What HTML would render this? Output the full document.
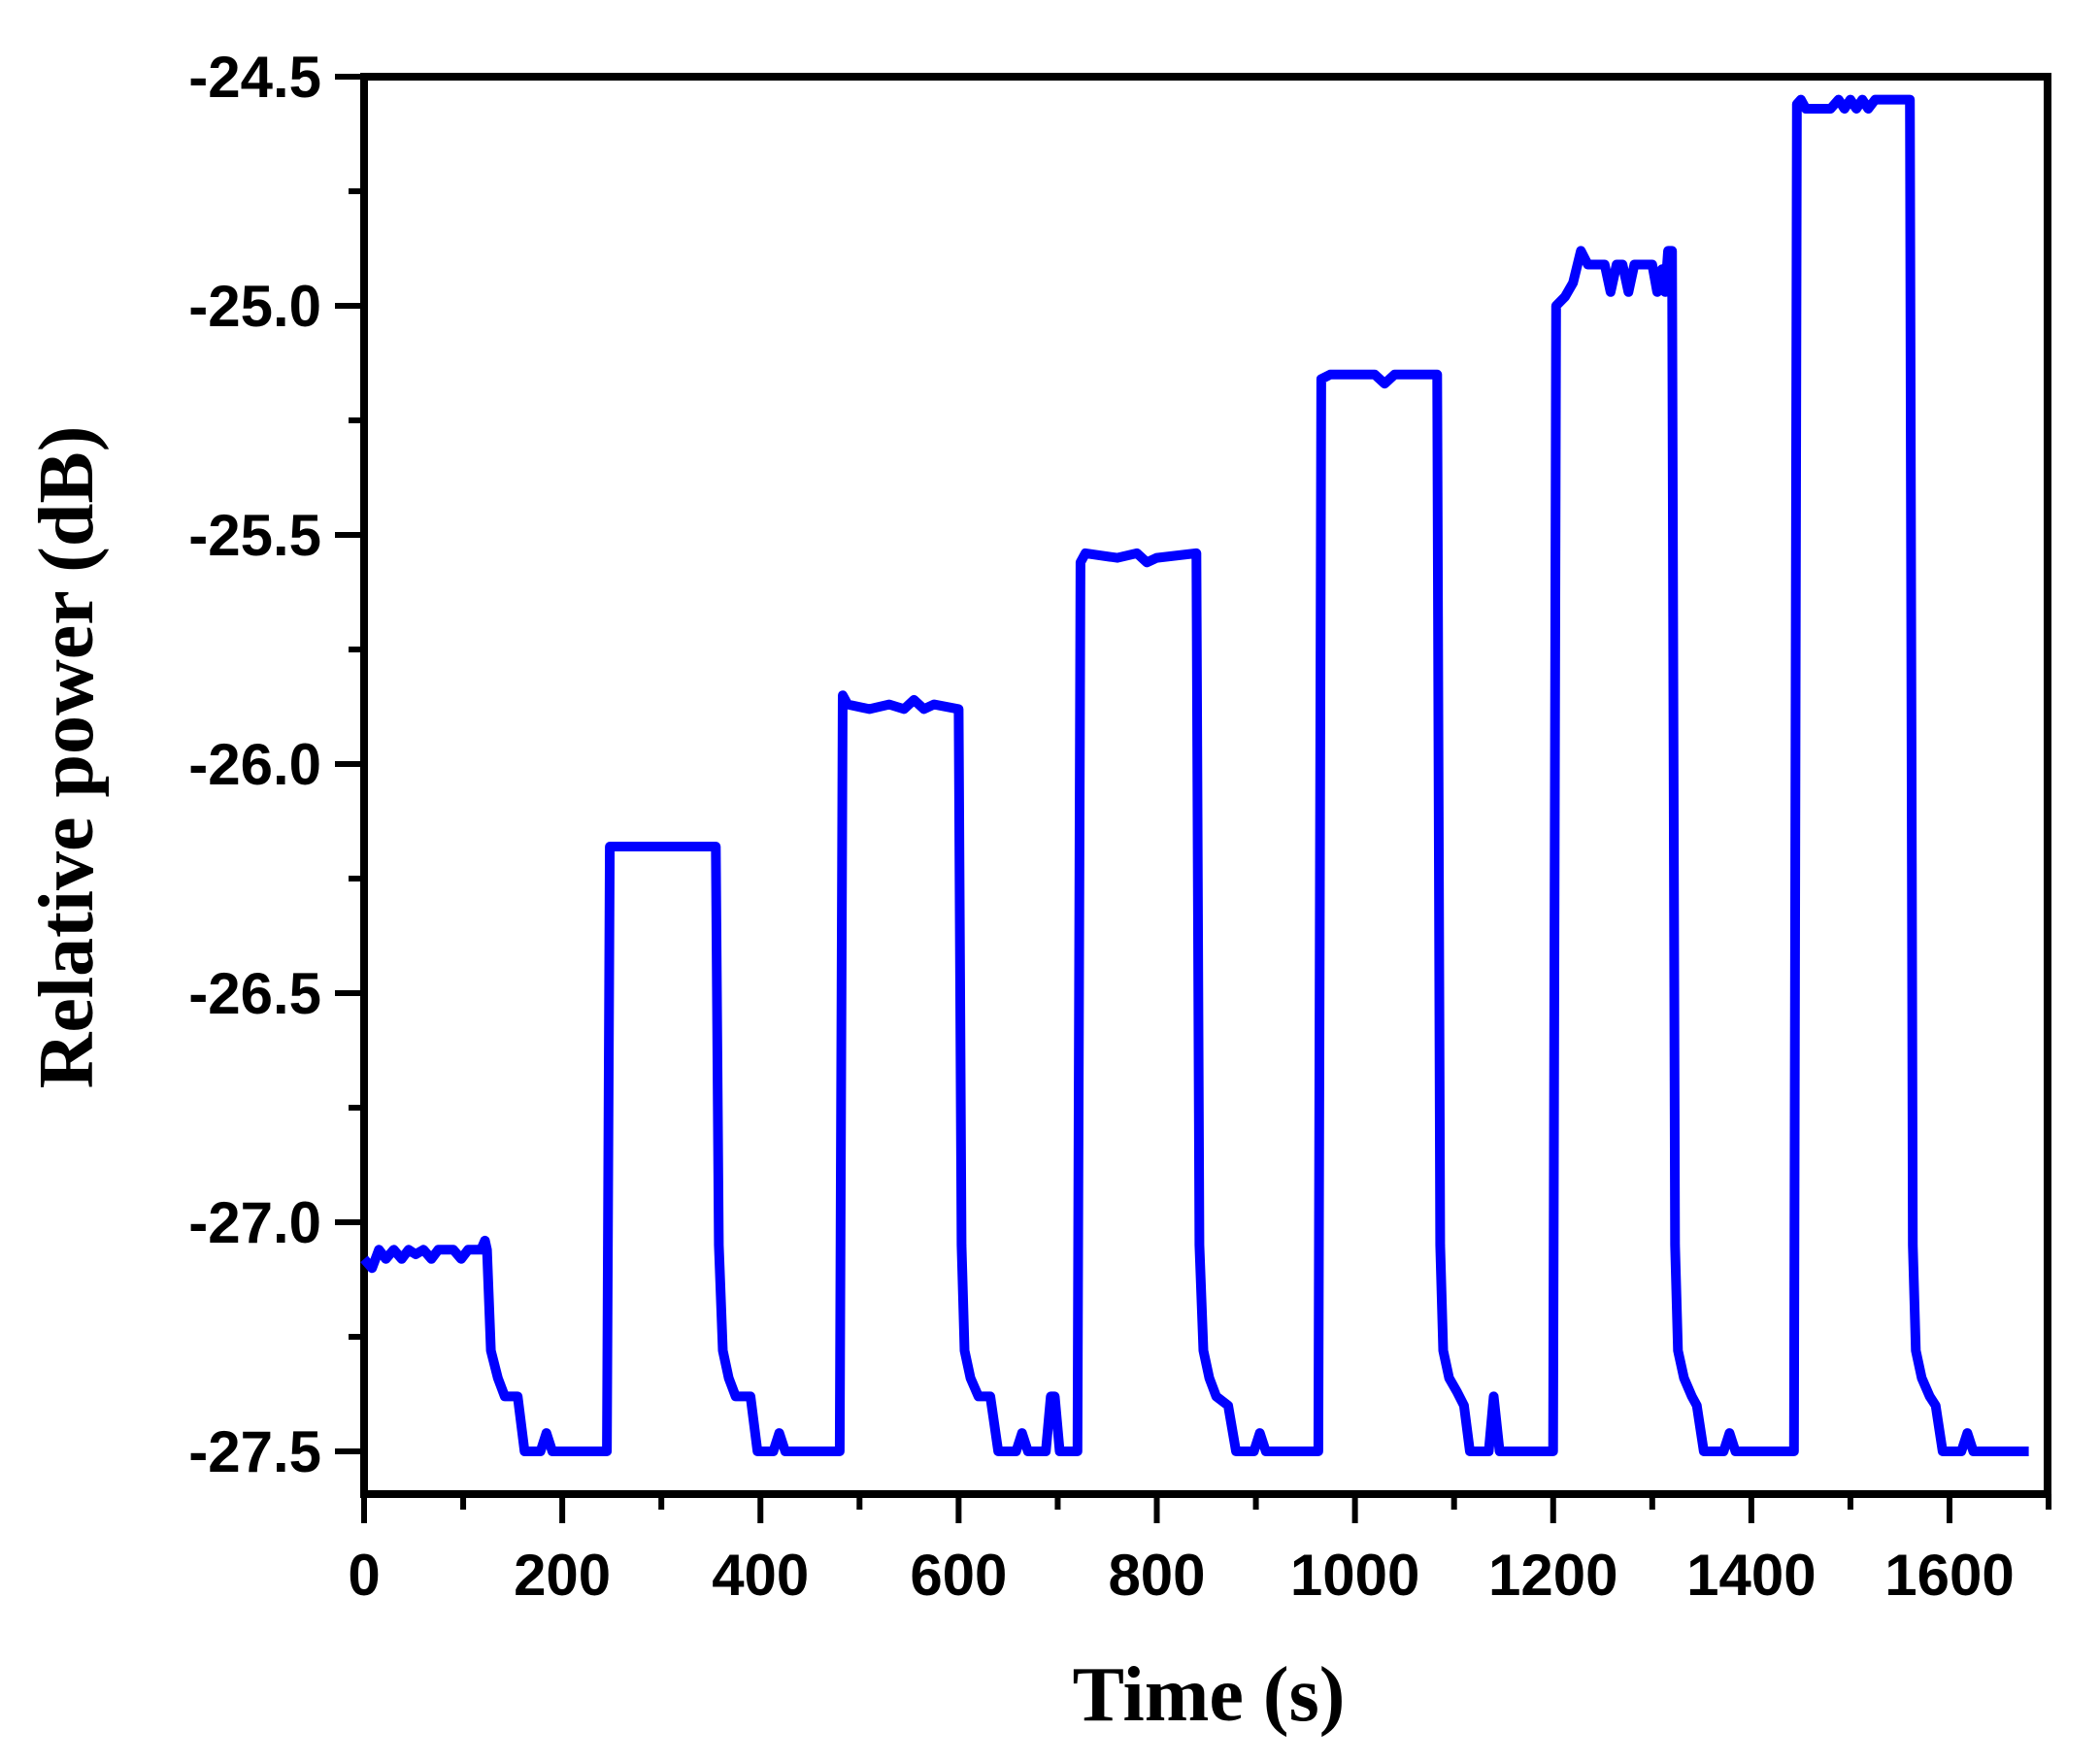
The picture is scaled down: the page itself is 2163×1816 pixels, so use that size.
<!DOCTYPE html>
<html><head><meta charset="utf-8"><style>
html,body{margin:0;padding:0;background:#fff;}
svg{display:block;}
text{font-family:"Liberation Sans",Arial,sans-serif;font-weight:bold;fill:#000;}
.ttl{font-family:"Liberation Serif","Times New Roman",serif;font-weight:bold;}
</style></head><body>
<svg id="chart" width="2163" height="1816" viewBox="0 0 2163 1816" xmlns="http://www.w3.org/2000/svg">
<g id="axes"></g>
<path id="series" fill="none" stroke="#0000ff" stroke-width="10" stroke-linejoin="round"/>
<text class="ttl" x="1245" y="1772" font-size="80" text-anchor="middle">Time (s)</text>
<text class="ttl" transform="translate(95,780) rotate(-90)" font-size="80" text-anchor="middle">Relative power (dB)</text>
</svg>
<script>
const times = [
 0,8,15,22,30,38,45,52,60,68,75,82,90,98,105,112,118,122,
 124,128,135,142,155,162,178,184,190,
 245,248,355,
 358,362,368,375,390,397,413,419,425,480,
 483,488,510,530,545,555,565,575,600,
 603,606,612,620,632,640,658,664,670,688,693,697,702,720,
 723,728,760,780,790,800,840,
 843,847,853,860,872,880,898,904,910,963,
 966,975,1020,1030,1040,1083,
 1086,1089,1095,1103,1110,1116,1135,1140,1146,1200,
 1203,1212,1220,1228,1235,1245,1252,1258,1264,1270,1276,1282,1300,1305,1310,1313,1316,1320,
 1323,1326,1332,1340,1345,1352,1372,1378,1384,1443,
 1446,1450,1455,1480,1488,1494,1500,1506,1512,1518,1525,1560,
 1563,1566,1572,1580,1586,1593,1612,1618,1624,1680
];
const values = [
 -27.08,-27.1,-27.06,-27.08,-27.06,-27.08,-27.06,-27.07,-27.06,-27.08,-27.06,-27.06,-27.06,-27.08,-27.06,-27.06,-27.06,-27.04,
 -27.06,-27.28,-27.34,-27.38,-27.38,-27.5,-27.5,-27.46,-27.5,
 -27.5,-26.18,-26.18,
 -27.05,-27.28,-27.34,-27.38,-27.38,-27.5,-27.5,-27.46,-27.5,-27.5,
 -25.85,-25.87,-25.88,-25.87,-25.88,-25.86,-25.88,-25.87,-25.88,
 -27.05,-27.28,-27.34,-27.38,-27.38,-27.5,-27.5,-27.46,-27.5,-27.5,-27.38,-27.38,-27.5,-27.5,
 -25.56,-25.54,-25.55,-25.54,-25.56,-25.55,-25.54,
 -27.05,-27.28,-27.34,-27.38,-27.4,-27.5,-27.5,-27.46,-27.5,-27.5,
 -25.16,-25.15,-25.15,-25.17,-25.15,-25.15,
 -27.05,-27.28,-27.34,-27.37,-27.4,-27.5,-27.5,-27.38,-27.5,-27.5,
 -25.0,-24.98,-24.95,-24.88,-24.91,-24.91,-24.91,-24.97,-24.91,-24.91,-24.97,-24.91,-24.91,-24.97,-24.92,-24.97,-24.88,-24.88,
 -27.05,-27.28,-27.34,-27.38,-27.4,-27.5,-27.5,-27.46,-27.5,-27.5,
 -24.56,-24.55,-24.57,-24.57,-24.55,-24.57,-24.55,-24.57,-24.55,-24.57,-24.55,-24.55,
 -27.05,-27.28,-27.34,-27.38,-27.4,-27.5,-27.5,-27.46,-27.5,-27.5
];
const xTicks = [0,200,400,600,800,1000,1200,1400,1600];
const yTicks = [-24.5,-25.0,-25.5,-26.0,-26.5,-27.0,-27.5];

const X0=375, X1=2109, Y0=79, Y1=1539;
const xs = t => 375 + t*(1633/1600);
const ys = v => 79 + (-24.5 - v)*472;
const NS='http://www.w3.org/2000/svg';
const axes=document.getElementById('axes');
function mk(tag,attrs,parent){const e=document.createElementNS(NS,tag);for(const k in attrs)e.setAttribute(k,attrs[k]);(parent||axes).appendChild(e);return e;}
const frame=mk('rect',{x:X0,y:Y0,width:X1-X0,height:Y1-Y0,fill:'none',stroke:'#000','stroke-width':8});


xTicks.forEach(t=>{
  const x=xs(t);
  const tk=mk('line',{x1:x,x2:x,y1:Y1,y2:Y1+30,stroke:'#000','stroke-width':6});
  
  
  const lb=mk('text',{x:x,y:Y1+104,'font-size':60,'text-anchor':'middle'});
  lb.textContent=t;
  
  
  if(t+100<=1700){
    const mx=xs(t+100);
    const mt=mk('line',{x1:mx,x2:mx,y1:Y1,y2:Y1+16,stroke:'#000','stroke-width':6});
    
    
  }
});
yTicks.forEach(v=>{
  const y=ys(v);
  const tk=mk('line',{x1:X0-30,x2:X0,y1:y,y2:y,stroke:'#000','stroke-width':6});
  
  
  const lb=mk('text',{x:X0-44,y:y+21,'font-size':60,'text-anchor':'end'});
  lb.textContent=v.toFixed(1);
  
  
  if(v>-27.5){
    const my=ys(v-0.25);
    const mt=mk('line',{x1:X0-16,x2:X0,y1:my,y2:my,stroke:'#000','stroke-width':6});
    
    
  }
});
let d='';
const n=Math.min(times.length,values.length);
for(let i=0;i<n;i++){d+=(i?'L':'M')+xs(times[i]).toFixed(1)+','+ys(values[i]).toFixed(1);}
document.getElementById('series').setAttribute('d',d);
</script>
</body></html>
